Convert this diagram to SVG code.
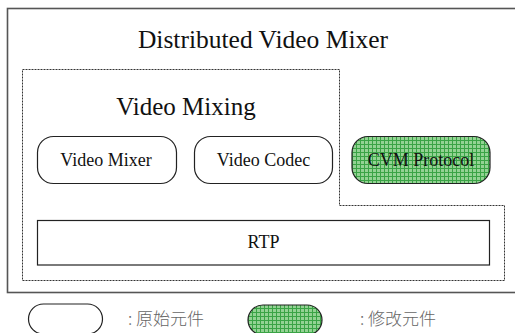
<svg xmlns="http://www.w3.org/2000/svg" width="515" height="333" viewBox="0 0 515 333">
<defs>
<pattern id="grid" width="4" height="4" patternUnits="userSpaceOnUse">
<rect width="4" height="4" fill="#93d293"/>
<path d="M0 0.5H4M0.5 0V4" stroke="#3aa345" stroke-width="1"/>
</pattern>
<style>
.t{font-family:"Liberation Serif","Times New Roman",serif;fill:#111;text-anchor:middle}
.box{fill:#fff;stroke:#222;stroke-width:1.2}
.mod{fill:url(#grid);stroke:#222;stroke-width:1.2}
.leg{font-family:"Noto Sans CJK TC","Noto Sans CJK SC",sans-serif;fill:#666;font-size:17px;font-weight:300}
</style>
</defs>
<rect width="515" height="333" fill="#fff"/>
<g id="outer">
<rect x="7.5" y="8.5" width="520" height="284" fill="none" stroke="#555" stroke-width="1.6"/>
<text class="t" x="263" y="48" font-size="25.5">Distributed Video Mixer</text>
</g>
<g id="video-mixing">
<path d="M22.5 69.5H339.5V205.5H504.5V280.5H22.5Z" fill="none" stroke="#333" stroke-width="1" stroke-dasharray="2,1"/>
<text class="t" x="186" y="115" font-size="25">Video Mixing</text>
</g>
<g id="video-mixer">
<rect class="box" x="37.5" y="136.5" width="139" height="47" rx="16"/>
<text class="t" x="106" y="166" font-size="18">Video Mixer</text>
</g>
<g id="video-codec">
<rect class="box" x="194.5" y="136.5" width="138" height="47" rx="16"/>
<text class="t" x="263.5" y="166" font-size="18">Video Codec</text>
</g>
<g id="cvm-protocol">
<rect class="mod" x="352" y="136.5" width="138" height="47" rx="16"/>
<text class="t" x="421" y="166" font-size="18">CVM Protocol</text>
</g>
<g id="rtp">
<rect class="box" x="37.5" y="220.5" width="452" height="44.5"/>
<text class="t" x="263.5" y="248" font-size="18">RTP</text>
</g>
<g id="connectors"></g>
<g id="legend">
<rect class="box" x="28.5" y="304" width="74" height="30" rx="15"/>
<text class="leg" x="128" y="325">: 原始元件</text>
<rect class="mod" x="248" y="305" width="74" height="30" rx="15"/>
<text class="leg" x="360" y="325">: 修改元件</text>
</g>
</svg>
